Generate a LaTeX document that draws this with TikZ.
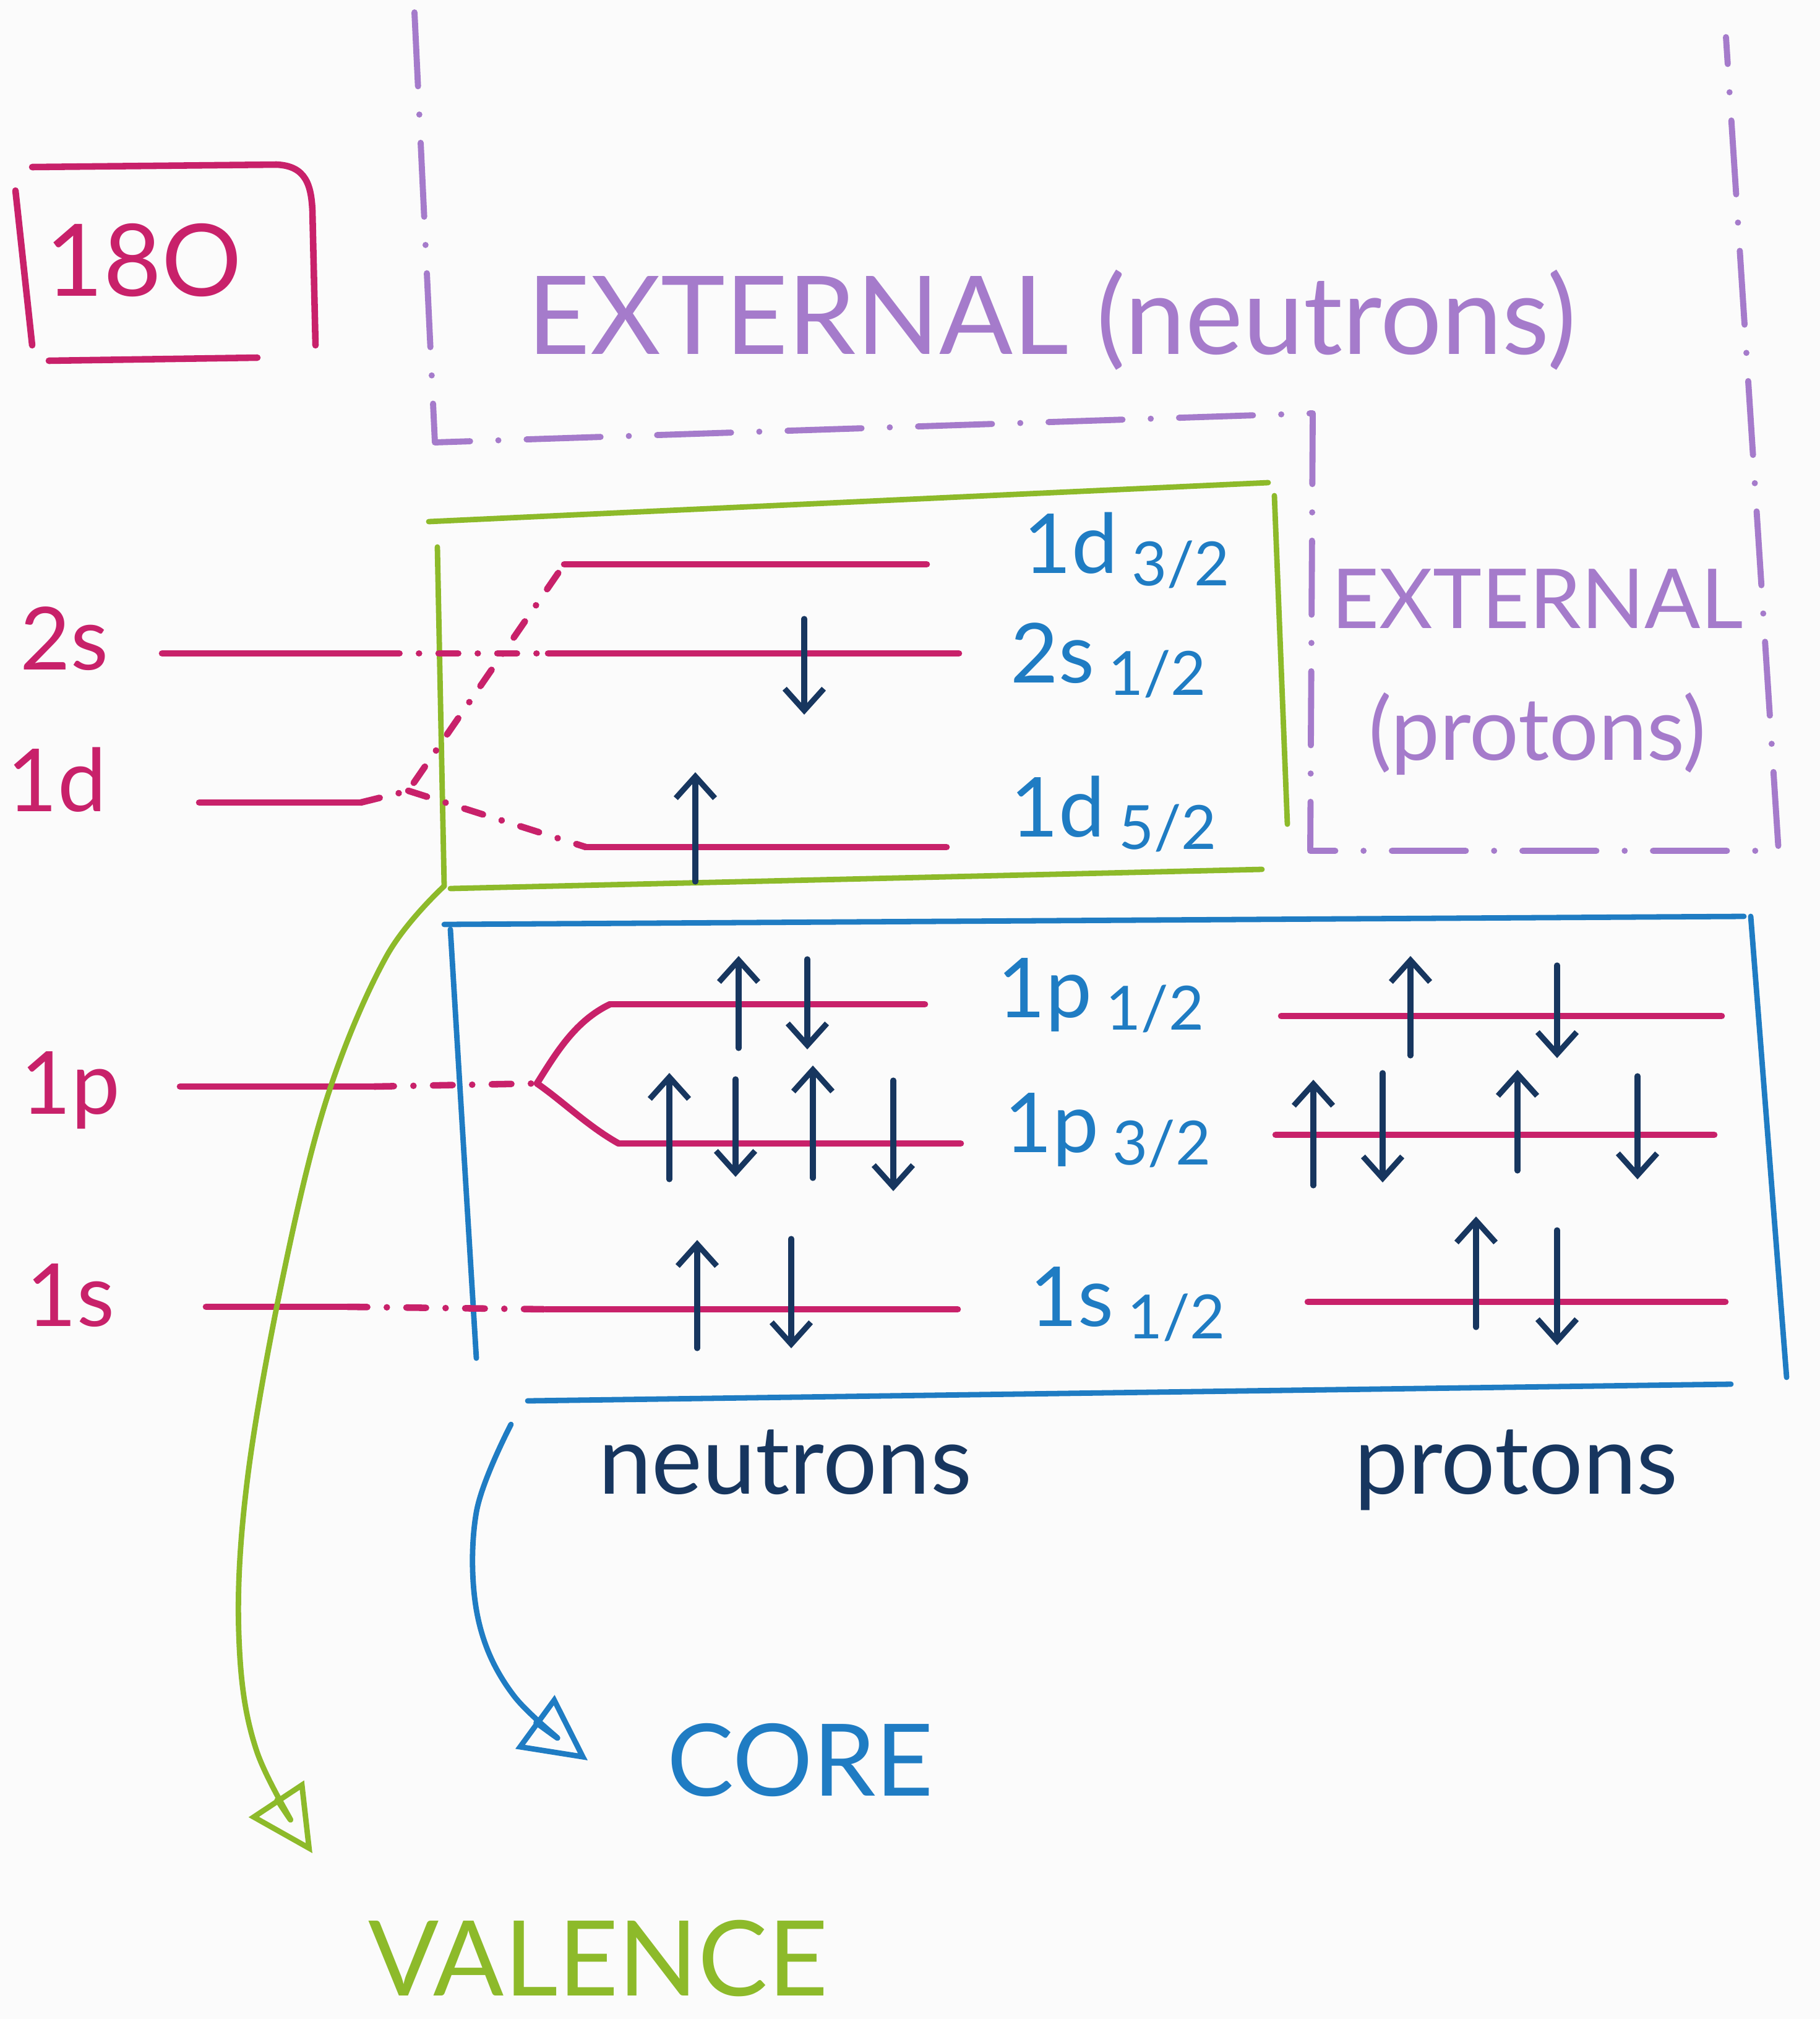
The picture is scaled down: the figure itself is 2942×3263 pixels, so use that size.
\documentclass[tikz,border=0pt]{standalone}
\usepackage{fontspec}
\setmainfont{Lato}
\usetikzlibrary{arrows.meta}
\definecolor{mag}{HTML}{C8216A}
\definecolor{pur}{HTML}{A57BCB}
\definecolor{grn}{HTML}{8DBA2A}
\definecolor{blu}{HTML}{1F7CC3}
\definecolor{nav}{HTML}{17365F}
\definecolor{bgc}{HTML}{FBFBFB}
\newcommand\jfrac[1]{\,\raisebox{-0.3ex}{\fontsize{28}{30}\selectfont #1}}
\newcommand\lvl[4]{\coordinate (#1-l) at (#2,#4); \coordinate (#1-r) at (#3,#4); \draw[levelline] (#1-l) -- (#1-r);}
\newcommand\spinu[4]{\coordinate (#1-a) at (#2,#4); \coordinate (#1-b) at (#2,#3); \draw[spinarrow] (#1-a) -- (#1-b);}
\newcommand\spind[4]{\coordinate (#1-a) at (#2,#3); \coordinate (#1-b) at (#2,#4); \draw[spinarrow] (#1-a) -- (#1-b);}
\begin{document}
\begin{tikzpicture}[x=0.01cm,y=-0.01cm, line cap=round, line join=round,
 levelline/.style={mag, line width=3pt},
 linkline/.style={mag, line width=3pt, dash pattern=on 9pt off 9pt on 0.01pt off 9pt},
 spinarrow/.style={nav, line width=2.6pt, -{Straight Barb[length=10pt,width=18pt]}},
 regionline/.style={pur, line width=2.8pt, dash pattern=on 34pt off 13pt on 0.01pt off 13pt},
 valbox/.style={grn, line width=2.5pt},
 corebox/.style={blu, line width=2.5pt},
 shelllab/.style={mag, font=\fontsize{40}{44}\selectfont, anchor=base, inner sep=0pt},
 jlab/.style={blu, font=\fontsize{38}{42}\selectfont, anchor=base west, inner sep=0pt},
 extlab/.style={pur, anchor=base, inner sep=0pt},
 sidelab/.style={nav, font=\fontsize{44}{48}\selectfont, anchor=base, inner sep=0pt}]

\fill[bgc] (0,0) rectangle (2942,3263);
\useasboundingbox (0,0) rectangle (2942,3263);

% ---- 18O box
\coordinate (ob1) at (25,308); \coordinate (ob2) at (52,558);
\coordinate (ob3) at (52,270); \coordinate (ob4) at (447,266);
\coordinate (ob5) at (505,340); \coordinate (ob6) at (510,558);
\coordinate (ob7) at (79,583); \coordinate (ob8) at (416,578);
\draw[mag, line width=3pt] (ob1) -- (ob2);
\draw[mag, line width=3pt] (ob3) -- (ob4) .. controls (495,268) and (503,300) .. (ob5) -- (ob6);
\draw[mag, line width=3pt] (ob7) -- (ob8);
\node[mag, font=\fontsize{46}{50}\selectfont, anchor=base, inner sep=0pt] (o18) at (232,478) {18O};

% ---- external region (purple dash-dot)
\coordinate (r1) at (670,20); \coordinate (r2) at (703,715);
\coordinate (r3) at (2122,668); \coordinate (r4) at (2118,1375);
\coordinate (r5) at (2875,1375); \coordinate (r6) at (2790,60);
\draw[regionline] (r1) -- (r2) -- (r3) -- (r4) -- (r5) -- (r6);
\node[extlab, font=\fontsize{50}{54}\selectfont] (extn) at (1700,572) {EXTERNAL (neutrons)};
\node[extlab, font=\fontsize{38}{42}\selectfont] (extp1) at (2485,1015) {EXTERNAL};
\node[extlab, font=\fontsize{40}{44}\selectfont] (extp2) at (2485,1228) {(protons)};

% ---- valence box (green)
\coordinate (vb1) at (693,843); \coordinate (vb2) at (2050,780);
\coordinate (vb3) at (2060,801); \coordinate (vb4) at (2081,1332);
\coordinate (vb5) at (728,1436); \coordinate (vb6) at (2040,1405);
\coordinate (vb7) at (707,884); \coordinate (vs) at (718,1432);
\draw[valbox] (vb1) -- (vb2);
\draw[valbox] (vb3) -- (vb4);
\draw[valbox] (vb5) -- (vb6);
\draw[valbox] (vb7) -- (vs);

% ---- core box (blue)
\coordinate (cb1) at (718,1494); \coordinate (cb2) at (2819,1481);
\coordinate (cb3) at (728,1502); \coordinate (cb4) at (770,2195);
\coordinate (cb5) at (2830,1481); \coordinate (cb6) at (2888,2226);
\coordinate (cb7) at (853,2264); \coordinate (cb8) at (2798,2237);
\draw[corebox] (cb1) -- (cb2);
\draw[corebox] (cb3) -- (cb4);
\draw[corebox] (cb5) -- (cb6);
\draw[corebox] (cb7) -- (cb8);

% ---- shell labels (left)
\node[shelllab] (s2s) at (104,1082) {2s};
\node[shelllab] (s1d) at (92,1311) {1d};
\node[shelllab] (s1p) at (114,1800) {1p};
\node[shelllab] (s1s) at (114,2143) {1s};
\lvl{L2s}{262}{614}{1056}
\lvl{L1d}{322}{583}{1297}
\lvl{L1p}{291}{605}{1756}
\lvl{L1s}{333}{562}{2112}

% ---- neutron levels
\lvl{n1d32}{912}{1498}{912}
\lvl{n2s12}{886}{1550}{1056}
\lvl{n1d52}{947}{1530}{1369}
\lvl{n1p12}{986}{1495}{1623}
\lvl{n1p32}{1000}{1553}{1848}
\lvl{n1s12}{882}{1548}{2116}
% ---- proton levels
\lvl{p1p12}{2071}{2783}{1642}
\lvl{p1p32}{2062}{2771}{1834}
\lvl{p1s12}{2114}{2789}{2104}

% ---- links (dash-dot)
\coordinate (f1d) at (660,1278);
\coordinate (f1p) at (868,1751);
\draw[linkline] (L2s-r) -- (n2s12-l);
\draw[linkline] (L1d-r) -- (f1d) -- (n1d32-l);
\draw[linkline] (f1d) -- (n1d52-l);
\draw[linkline] (L1p-r) -- (f1p);
\draw[levelline] (f1p) .. controls (900,1700) and (930,1650) .. (n1p12-l);
\draw[levelline] (f1p) .. controls (910,1780) and (950,1820) .. (n1p32-l);
\draw[linkline] (L1s-r) -- (n1s12-l);

% ---- level labels
\node[jlab] (j1) at (1654,926) {1d\jfrac{3/2}};
\node[jlab] (j2) at (1633,1103) {2s\jfrac{1/2}};
\node[jlab] (j3) at (1633,1352) {1d\jfrac{5/2}};
\node[jlab] (j4) at (1612,1644) {1p\jfrac{1/2}};
\node[jlab] (j5) at (1623,1862) {1p\jfrac{3/2}};
\node[jlab] (j6) at (1664,2143) {1s\jfrac{1/2}};

% ---- neutron spins
\spind{a1}{1300}{1000}{1155}
\spinu{a2}{1124}{1248}{1425}
\spinu{a3}{1194}{1545}{1694}
\spind{a4}{1305}{1550}{1696}
\spinu{a5}{1082}{1734}{1906}
\spind{a6}{1189}{1744}{1902}
\spinu{a7}{1314}{1722}{1904}
\spind{a8}{1444}{1746}{1925}
\spinu{a9}{1127}{2004}{2179}
\spind{a10}{1279}{2002}{2179}
% ---- proton spins
\spinu{b1}{2280}{1545}{1706}
\spind{b2}{2517}{1560}{1710}
\spinu{b3}{2123}{1745}{1916}
\spind{b4}{2235}{1734}{1911}
\spinu{b5}{2453}{1729}{1892}
\spind{b6}{2647}{1739}{1906}
\spinu{b7}{2386}{1966}{2145}
\spind{b8}{2517}{1988}{2174}

% ---- side labels
\node[sidelab] (neut) at (1269,2414) {neutrons};
\node[sidelab] (prot) at (2451,2414) {protons};

% ---- valence arrow
\node[grn, font=\fontsize{48}{52}\selectfont, anchor=base, inner sep=0pt] (val) at (967,3225) {VALENCE};
\coordinate (vtip) at (505,2995);
\draw[grn, line width=2.5pt, -{Triangle[open, length=30pt, width=30pt, line width=2.5pt]}]
  plot[smooth, tension=0.6] coordinates {(vs) (625,1545) (530,1770) (458,2060) (400,2390) (386,2640) (415,2830) (vtip)};

% ---- core arrow
\node[blu, font=\fontsize{46}{50}\selectfont, anchor=base, inner sep=0pt] (core) at (1294,2902) {CORE};
\coordinate (cs) at (826,2302);
\coordinate (ctip) at (950,2845);
\draw[blu, line width=2.5pt, -{Triangle[open, length=30pt, width=30pt, line width=2.5pt]}]
  plot[smooth, tension=0.6] coordinates {(cs) (770,2444) (772,2612) (831,2741) (ctip)};
\end{tikzpicture}
\end{document}
